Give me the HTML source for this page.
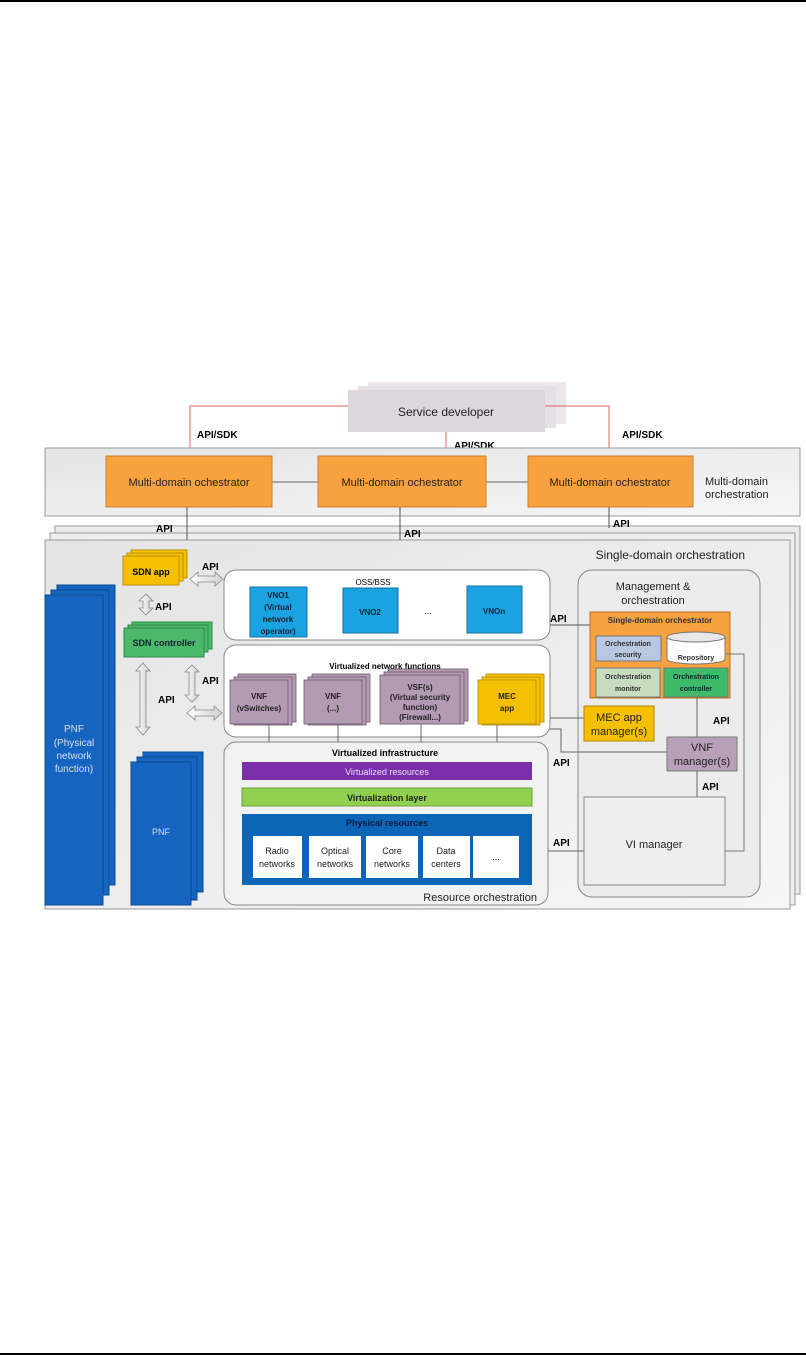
<!DOCTYPE html>
<html><head><meta charset="utf-8"><style>
html,body{margin:0;padding:0;background:#fff;}
svg{display:block;}
text{font-family:"Liberation Sans",sans-serif;}
</style></head><body>
<svg width="806" height="1355" viewBox="0 0 806 1355" xmlns="http://www.w3.org/2000/svg">
<defs>
<linearGradient id="g1" x1="0" y1="0" x2="1" y2="1"><stop offset="0" stop-color="#e4e4e4"/><stop offset="1" stop-color="#f6f6f6"/></linearGradient>
<linearGradient id="arr" x1="0" y1="0" x2="1" y2="0"><stop offset="0" stop-color="#fff"/><stop offset="1" stop-color="#cfcfcf"/></linearGradient>
</defs>
<line x1="0" y1="1" x2="806" y2="1" stroke="#000" stroke-width="2"/>
<line x1="0" y1="1354" x2="806" y2="1354" stroke="#000" stroke-width="2"/>

<!-- Service developer -->
<rect x="368" y="382" width="198" height="42" fill="#ece6ec"/>
<rect x="358" y="386" width="198" height="42" fill="#e6dfe6"/>
<rect x="348" y="390" width="197" height="42" fill="#ddd6dd"/>
<text x="446" y="416" font-size="12" text-anchor="middle" fill="#222">Service developer</text>
<polyline points="190,456 190,406 348,406" fill="none" stroke="#e06060" stroke-width="1"/>
<polyline points="446,432 446,456" fill="none" stroke="#e06060"/>
<polyline points="545,406 609,406 609,456" fill="none" stroke="#e06060"/>
<text x="197" y="438" font-size="10" font-weight="bold">API/SDK</text>
<text x="454" y="449" font-size="10" font-weight="bold">API/SDK</text>
<text x="622" y="438" font-size="10" font-weight="bold">API/SDK</text>

<!-- Multi-domain band -->
<rect x="45" y="448" width="755" height="68" fill="url(#g1)" stroke="#999"/>
<line x1="272" y1="482" x2="318" y2="482" stroke="#666"/>
<line x1="486" y1="482" x2="528" y2="482" stroke="#666"/>
<rect x="106" y="456" width="166" height="51" fill="#f7a13f" stroke="#d08030"/>
<rect x="318" y="456" width="168" height="51" fill="#f7a13f" stroke="#d08030"/>
<rect x="528" y="456" width="165" height="51" fill="#f7a13f" stroke="#d08030"/>
<text x="189" y="486" font-size="11" text-anchor="middle" fill="#222">Multi-domain ochestrator</text>
<text x="402" y="486" font-size="11" text-anchor="middle" fill="#222">Multi-domain ochestrator</text>
<text x="610" y="486" font-size="11" text-anchor="middle" fill="#222">Multi-domain ochestrator</text>
<text x="705" y="485" font-size="11" fill="#222">Multi-domain</text>
<text x="705" y="498" font-size="11" fill="#222">orchestration</text>

<!-- Single domain stack -->
<rect x="55" y="526" width="745" height="368" fill="#ececec" stroke="#999"/>
<rect x="50" y="533" width="745" height="372" fill="#eeeeee" stroke="#999"/>
<rect x="45" y="540" width="745" height="369" fill="url(#g1)" stroke="#999"/>
<line x1="187" y1="507" x2="187" y2="540" stroke="#555"/>
<line x1="400" y1="507" x2="400" y2="540" stroke="#555"/>
<line x1="609" y1="507" x2="609" y2="528" stroke="#555"/>
<text x="156" y="532" font-size="10" font-weight="bold">API</text>
<text x="404" y="537" font-size="10" font-weight="bold">API</text>
<text x="613" y="527" font-size="10" font-weight="bold">API</text>
<text x="745" y="559" font-size="12" text-anchor="end" fill="#222">Single-domain orchestration</text>

<!-- PNFs -->
<rect x="57" y="585" width="58" height="300" fill="#1565c0" stroke="#0d4a90"/>
<rect x="51" y="590" width="58" height="305" fill="#1565c0" stroke="#0d4a90"/>
<rect x="45" y="595" width="58" height="310" fill="#1565c0" stroke="#0d4a90"/>
<text font-size="10" fill="#dde" text-anchor="middle"><tspan x="74" y="732">PNF</tspan><tspan x="74" y="746">(Physical</tspan><tspan x="74" y="759">network</tspan><tspan x="74" y="772">function)</tspan></text>
<rect x="143" y="752" width="60" height="140" fill="#1565c0" stroke="#0d4a90"/>
<rect x="137" y="757" width="60" height="143" fill="#1565c0" stroke="#0d4a90"/>
<rect x="131" y="762" width="60" height="143" fill="#1565c0" stroke="#0d4a90"/>
<text x="161" y="835" font-size="9" fill="#dde" text-anchor="middle">PNF</text>

<!-- SDN -->
<rect x="131" y="550" width="56" height="28" fill="#f5c000" stroke="#c09000"/>
<rect x="127" y="553" width="56" height="28" fill="#f5c000" stroke="#c09000"/>
<rect x="123" y="556" width="56" height="29" fill="#f5c000" stroke="#c09000"/>
<text x="151" y="575" font-size="9" font-weight="bold" text-anchor="middle">SDN app</text>
<rect x="132" y="622" width="80" height="27" fill="#4cb86a" stroke="#2e8a48"/>
<rect x="128" y="625" width="80" height="27" fill="#4cb86a" stroke="#2e8a48"/>
<rect x="124" y="628" width="80" height="29" fill="#4cb86a" stroke="#2e8a48"/>
<text x="164" y="646" font-size="9" font-weight="bold" text-anchor="middle" fill="#123">SDN controller</text>

<!-- arrows -->
<g fill="url(#arr)" stroke="#888" stroke-width="0.8">
<polygon points="190,579 198,572 198,576 215,576 215,572 223,579 215,586 215,582 198,582 198,586"/>
<polygon points="146,594 153,601 149,601 149,608 153,608 146,615 139,608 143,608 143,601 139,601"/>
<polygon points="143,663 150,671 146,671 146,727 150,727 143,735 136,727 140,727 140,671 136,671"/>
<polygon points="192,665 199,672 195,672 195,695 199,695 192,702 185,695 189,695 189,672 185,672"/>
<polygon points="187,713 195,706 195,710 214,710 214,706 222,713 214,720 214,716 195,716 195,720"/>
</g>
<text x="202" y="570" font-size="10" font-weight="bold">API</text>
<text x="155" y="610" font-size="10" font-weight="bold">API</text>
<text x="158" y="703" font-size="10" font-weight="bold">API</text>
<text x="202" y="684" font-size="10" font-weight="bold">API</text>

<!-- OSS/BSS -->
<rect x="224" y="570" width="326" height="70" rx="12" fill="#fff" stroke="#888"/>
<text x="373" y="585" font-size="8" text-anchor="middle">OSS/BSS</text>
<rect x="250" y="587" width="57" height="50" fill="#1aa3e0" stroke="#1070a0"/>
<text font-size="8" font-weight="bold" text-anchor="middle" fill="#123"><tspan x="278" y="598">VNO1</tspan><tspan x="278" y="610">(Virtual</tspan><tspan x="278" y="622">network</tspan><tspan x="278" y="634">operator)</tspan></text>
<rect x="343" y="588" width="55" height="45" fill="#1aa3e0" stroke="#1070a0"/>
<text x="370" y="615" font-size="8" font-weight="bold" text-anchor="middle" fill="#123">VNO2</text>
<text x="428" y="614" font-size="9" text-anchor="middle">...</text>
<rect x="467" y="586" width="55" height="47" fill="#1aa3e0" stroke="#1070a0"/>
<text x="494" y="614" font-size="8" font-weight="bold" text-anchor="middle" fill="#123">VNOn</text>

<!-- VNF box -->
<rect x="224" y="645" width="326" height="92" rx="12" fill="#fff" stroke="#888"/>
<text x="385" y="669" font-size="8" font-weight="bold" text-anchor="middle">Virtualized network functions</text>
<g stroke="#444" stroke-width="0.8">
<line x1="269" y1="724" x2="269" y2="743"/><line x1="338" y1="724" x2="338" y2="743"/><line x1="421" y1="724" x2="421" y2="743"/><line x1="497" y1="724" x2="497" y2="743"/>
</g>
<g fill="#b49bb4" stroke="#6d5a6d" stroke-width="0.8">
<rect x="238" y="674" width="58" height="48"/><rect x="234" y="677" width="58" height="48"/><rect x="230" y="680" width="58" height="44"/>
<rect x="312" y="674" width="58" height="48"/><rect x="308" y="677" width="58" height="48"/><rect x="304" y="680" width="58" height="44"/>
<rect x="388" y="669" width="80" height="52"/><rect x="384" y="672" width="80" height="52"/><rect x="380" y="675" width="80" height="49"/>
</g>
<g fill="#f5c000" stroke="#b08800" stroke-width="0.8">
<rect x="486" y="674" width="58" height="48"/><rect x="482" y="677" width="58" height="48"/><rect x="478" y="680" width="58" height="44"/>
</g>
<text font-size="8" font-weight="bold" text-anchor="middle" fill="#222"><tspan x="259" y="699">VNF</tspan><tspan x="259" y="711">(vSwitches)</tspan></text>
<text font-size="8" font-weight="bold" text-anchor="middle" fill="#222"><tspan x="333" y="699">VNF</tspan><tspan x="333" y="711">(...)</tspan></text>
<text font-size="8" font-weight="bold" text-anchor="middle" fill="#222"><tspan x="420" y="690">VSF(s)</tspan><tspan x="420" y="700">(Virtual security</tspan><tspan x="420" y="710">function)</tspan><tspan x="420" y="720">(Firewall...)</tspan></text>
<text font-size="8" font-weight="bold" text-anchor="middle" fill="#222"><tspan x="507" y="699">MEC</tspan><tspan x="507" y="711">app</tspan></text>

<!-- Infra -->
<rect x="224" y="742" width="324" height="163" rx="12" fill="#f2f2f2" stroke="#888"/>
<text x="385" y="756" font-size="9" font-weight="bold" text-anchor="middle">Virtualized infrastructure</text>
<rect x="242" y="762" width="290" height="18" fill="#7b2fa8"/>
<text x="387" y="775" font-size="9" text-anchor="middle" fill="#e8dff0">Virtualized resources</text>
<rect x="242" y="788" width="290" height="18" fill="#92d050" stroke="#70a040"/>
<text x="387" y="801" font-size="9" font-weight="bold" text-anchor="middle" fill="#222">Virtualization layer</text>
<rect x="242" y="814" width="290" height="71" fill="#0b66b8"/>
<text x="387" y="826" font-size="9" font-weight="bold" text-anchor="middle" fill="#0a1a40">Physical resources</text>
<g fill="#fff">
<rect x="253" y="836" width="49" height="42"/><rect x="309" y="836" width="52" height="42"/><rect x="366" y="836" width="52" height="42"/><rect x="423" y="836" width="47" height="42"/><rect x="473" y="836" width="46" height="42"/>
</g>
<g font-size="9" text-anchor="middle" fill="#222">
<text x="277" y="854">Radio</text><text x="277" y="867">networks</text>
<text x="335" y="854">Optical</text><text x="335" y="867">networks</text>
<text x="392" y="854">Core</text><text x="392" y="867">networks</text>
<text x="446" y="854">Data</text><text x="446" y="867">centers</text>
<text x="496" y="860">...</text>
</g>
<text x="537" y="901" font-size="11" text-anchor="end" fill="#222">Resource orchestration</text>

<!-- Management -->
<rect x="578" y="570" width="182" height="327" rx="14" fill="#ececec" stroke="#888"/>
<text x="653" y="590" font-size="11" text-anchor="middle" fill="#222">Management &amp;</text>
<text x="653" y="604" font-size="11" text-anchor="middle" fill="#222">orchestration</text>
<line x1="550" y1="625" x2="590" y2="625" stroke="#555"/>
<text x="550" y="622" font-size="10" font-weight="bold">API</text>
<rect x="590" y="612" width="140" height="86" fill="#f7a13f" stroke="#c07020"/>
<text x="660" y="623" font-size="8" font-weight="bold" text-anchor="middle" fill="#333">Single-domain orchestrator</text>
<rect x="596" y="636" width="65" height="25" fill="#b8c8e0" stroke="#777"/>
<text font-size="7" font-weight="bold" text-anchor="middle" fill="#333"><tspan x="628" y="646">Orchestration</tspan><tspan x="628" y="657">security</tspan></text>
<path d="M667,637 v22 a29,5 0 0 0 58,0 v-22" fill="#fff" stroke="#777"/>
<ellipse cx="696" cy="637" rx="29" ry="5" fill="#e8e8e8" stroke="#777"/>
<text x="696" y="660" font-size="7" font-weight="bold" text-anchor="middle" fill="#333">Repository</text>
<rect x="596" y="668" width="64" height="29" fill="#c8dcc0" stroke="#777"/>
<text font-size="7" font-weight="bold" text-anchor="middle" fill="#333"><tspan x="628" y="679">Orchestration</tspan><tspan x="628" y="691">monitor</tspan></text>
<rect x="664" y="668" width="64" height="29" fill="#3dba6a" stroke="#777"/>
<text font-size="7" font-weight="bold" text-anchor="middle" fill="#123"><tspan x="696" y="679">Orchestration</tspan><tspan x="696" y="691">controller</tspan></text>
<polyline points="726,654 744,654 744,851 725,851" fill="none" stroke="#777"/>
<line x1="697" y1="698" x2="697" y2="737" stroke="#666"/>
<text x="713" y="724" font-size="10" font-weight="bold">API</text>
<line x1="550" y1="718" x2="584" y2="718" stroke="#666"/>
<rect x="584" y="706" width="70" height="35" fill="#f5c000" stroke="#b08800"/>
<text font-size="11" text-anchor="middle" fill="#222"><tspan x="619" y="721">MEC app</tspan><tspan x="619" y="735">manager(s)</tspan></text>
<polyline points="550,729 561,729 561,752 667,752" fill="none" stroke="#666"/>
<rect x="667" y="737" width="70" height="34" fill="#b8a0b8" stroke="#777"/>
<text font-size="11" text-anchor="middle" fill="#222"><tspan x="702" y="751">VNF</tspan><tspan x="702" y="765">manager(s)</tspan></text>
<line x1="697" y1="771" x2="697" y2="797" stroke="#666"/>
<text x="702" y="790" font-size="10" font-weight="bold">API</text>
<text x="553" y="766" font-size="10" font-weight="bold">API</text>
<text x="553" y="846" font-size="10" font-weight="bold">API</text>
<line x1="548" y1="851" x2="584" y2="851" stroke="#666"/>
<rect x="584" y="797" width="141" height="88" fill="#eeeeee" stroke="#888"/>
<text x="654" y="848" font-size="11" text-anchor="middle" fill="#222">VI manager</text>
</svg>
</body></html>
